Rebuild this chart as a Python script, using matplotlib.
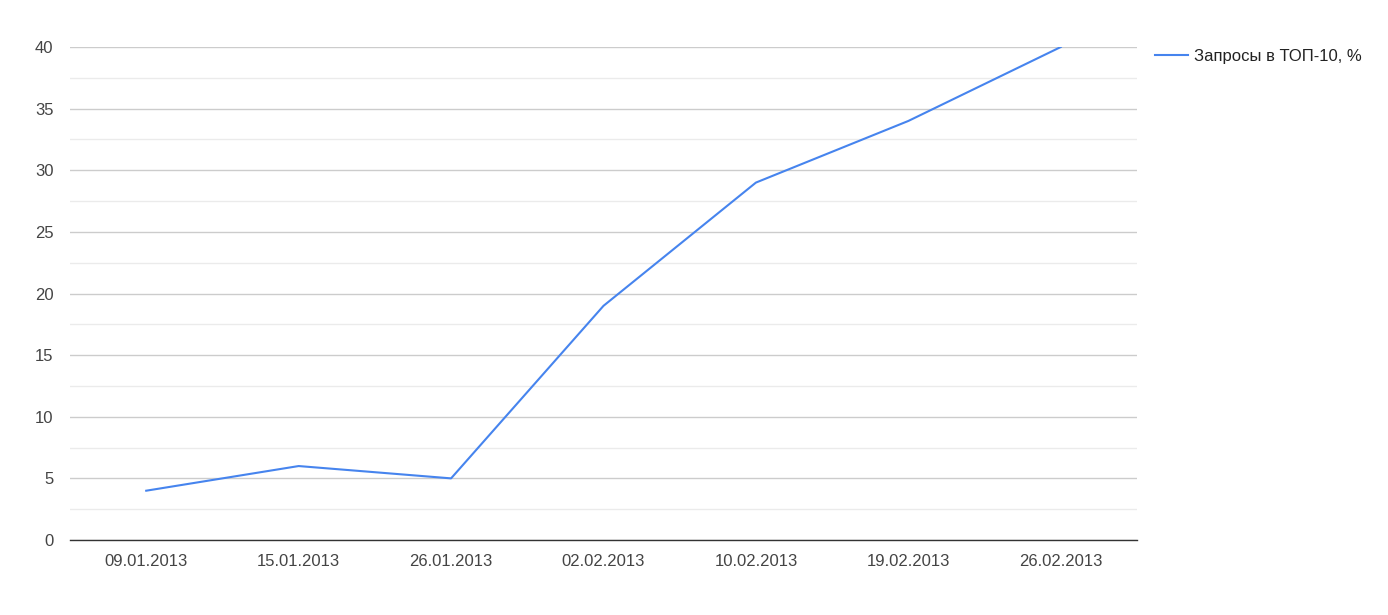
import matplotlib
matplotlib.use("Agg")
import matplotlib.pyplot as plt
from matplotlib.ticker import MultipleLocator

dates = ["09.01.2013", "15.01.2013", "26.01.2013", "02.02.2013", "10.02.2013", "19.02.2013", "26.02.2013"]
values = [4, 6, 5, 19, 29, 34, 40]
series_name = "Запросы в ТОП-10, %"
y_ticks = [0, 5, 10, 15, 20, 25, 30, 35, 40]

plt.rcParams['font.family'] = ['Liberation Sans', 'DejaVu Sans']

W, H = 1388, 615
fig = plt.figure(figsize=(W / 100, H / 100), dpi=100)
left, right, top, bottom = 70, 1137, 47, 540
ax = fig.add_axes([left / W, 1 - bottom / H, (right - left) / W, (bottom - top) / H])

x = list(range(len(dates)))
line, = ax.plot(x, values, color="#4684ee", linewidth=1.5, label=series_name, zorder=3)

ax.set_xlim(-0.5, len(dates) - 0.5)
ax.set_ylim(0, 40)
ax.set_xticks(x)
ax.set_xticklabels(dates)
ax.set_yticks(y_ticks)
ax.yaxis.set_minor_locator(MultipleLocator(2.5))

ax.grid(axis="y", which="major", color="#cccccc", linewidth=1, zorder=0)
ax.grid(axis="y", which="minor", color="#ebebeb", linewidth=1, zorder=0)
ax.set_axisbelow(True)

for s in ["top", "right", "left"]:
    ax.spines[s].set_visible(False)
ax.spines["bottom"].set_color("#333333")
ax.spines["bottom"].set_linewidth(1)
ax.spines["bottom"].set_zorder(4)

ax.tick_params(axis="both", which="both", length=0, labelsize=12, labelcolor="#444444")
ax.tick_params(axis="x", pad=10)
ax.tick_params(axis="y", pad=12)

leg = fig.legend(handles=[line], labels=[series_name], loc="upper left",
                 bbox_to_anchor=(1148 / W, 1 - 42 / H), frameon=False,
                 fontsize=12, handlelength=2.0, handletextpad=0.36, borderaxespad=0)
for t in leg.get_texts():
    t.set_color("#222222")

fig.savefig("out.png", dpi=100, facecolor="white")
